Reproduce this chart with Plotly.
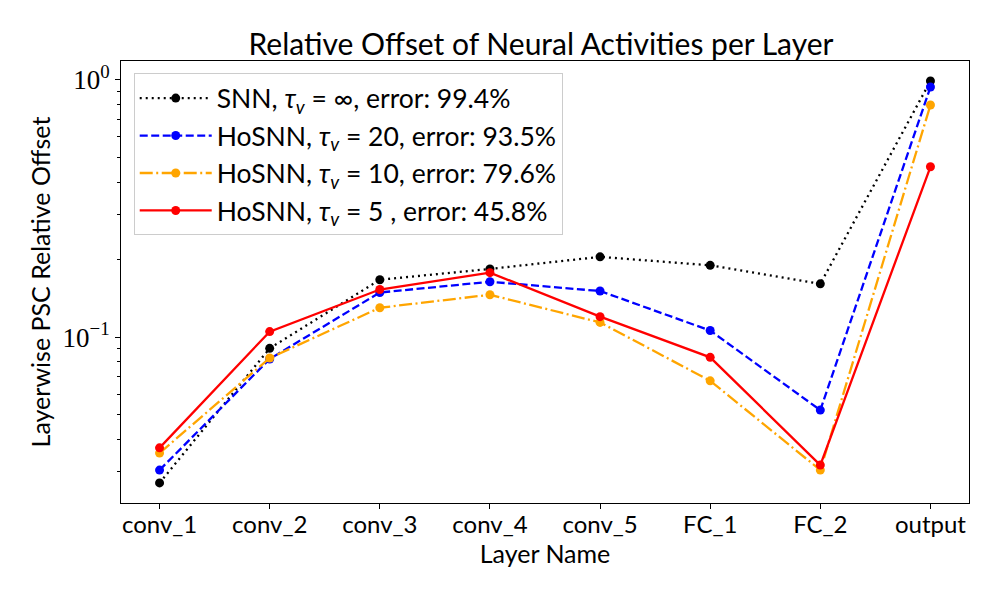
import plotly.graph_objects as go

layers = ["conv_1", "conv_2", "conv_3", "conv_4", "conv_5", "FC_1", "FC_2", "output"]
snn = [0.0271, 0.0904, 0.167, 0.184, 0.205, 0.190, 0.161, 0.989]
hosnn_20 = [0.0304, 0.0822, 0.149, 0.164, 0.151, 0.106, 0.0520, 0.937]
hosnn_10 = [0.0354, 0.0829, 0.130, 0.146, 0.114, 0.0676, 0.0304, 0.798]
hosnn_5 = [0.0371, 0.105, 0.153, 0.178, 0.120, 0.0834, 0.0318, 0.459]

names = [
    "SNN, <i>τ</i><sub><i>v</i></sub> = ∞, error: 99.4%",
    "HoSNN, <i>τ</i><sub><i>v</i></sub> = 20, error: 93.5%",
    "HoSNN, <i>τ</i><sub><i>v</i></sub> = 10, error: 79.6%",
    "HoSNN, <i>τ</i><sub><i>v</i></sub> = 5 , error: 45.8%",
]
series = [snn, hosnn_20, hosnn_10, hosnn_5]
colors = ["black", "blue", "orange", "red"]
dashes = ["2px,4px", "8px,3.5px", "13px,3.5px,2px,3.5px", "solid"]

fig = go.Figure()
xs = list(range(len(layers)))
for name, ys, c, d in zip(names, series, colors, dashes):
    fig.add_trace(go.Scatter(
        x=xs, y=ys, name=name, mode="lines+markers",
        line=dict(color=c, width=2.3, dash=d),
        marker=dict(color=c, size=9),
    ))

# page body has an ~8px offset; margins compensate for it
font_main = "Lato, 'Liberation Sans', sans-serif"
fig.update_layout(
    width=1000, height=600,
    margin=dict(l=113, r=39, t=53, b=105, autoexpand=False),
    paper_bgcolor="white", plot_bgcolor="white",
    font=dict(family=font_main, size=20, color="black"),
    title=dict(text="Relative Offset of Neural Activities per Layer",
               x=0.533, xanchor="center", y=1 - 36 / 600, yanchor="middle",
               yref="container", font=dict(size=30, family=font_main)),
    legend=dict(x=0.015, y=0.972, xanchor="left", yanchor="top",
                bgcolor="rgba(255,255,255,0.8)", bordercolor="#cccccc", borderwidth=1,
                font=dict(size=26.5, family=font_main), tracegroupgap=0, itemwidth=72),
    showlegend=True,
)
fig.update_xaxes(
    range=[-0.35, 7.35], tickmode="array", tickvals=xs, ticktext=layers,
    showline=True, linecolor="black", linewidth=1, mirror=True, automargin=False,
    ticks="outside", ticklen=5, tickcolor="black", showgrid=False, zeroline=False,
    ticklabelstandoff=-5,
    title=dict(text="Layer Name", font=dict(size=25), standoff=0),
    tickfont=dict(size=24),
)
minor_vals = [k * 10 ** e for e in (-2, -1) for k in range(2, 10)]
fig.update_yaxes(
    type="log", range=[-1.645, 0.073], automargin=False,
    tickmode="array", tickvals=[0.1, 1], ticktext=["10<sup>−1</sup>", "10<sup>0</sup>"],
    tickfont=dict(family="'Liberation Serif', 'DejaVu Serif', serif", size=27),
    showline=True, linecolor="black", linewidth=1, mirror=True,
    ticks="outside", ticklen=5, tickcolor="black", showgrid=False, zeroline=False,
    minor=dict(tickmode="array", tickvals=minor_vals, ticks="outside", ticklen=3, tickcolor="black", showgrid=False),
    title=dict(text="Layerwise PSC Relative Offset", font=dict(size=25), standoff=4),
)

fig.write_html("out.html")
